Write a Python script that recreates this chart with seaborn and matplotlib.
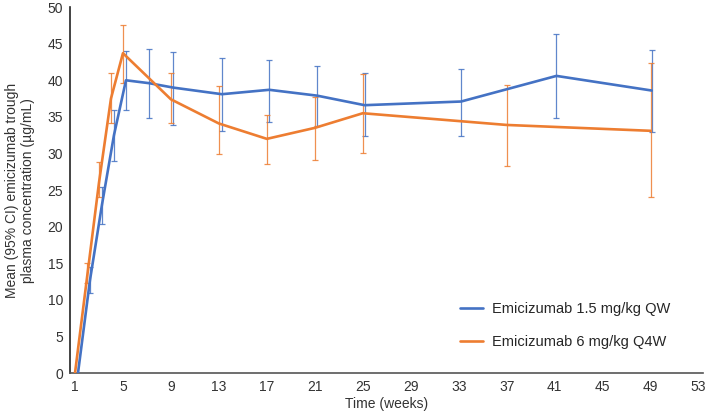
import numpy as np
import pandas as pd
import seaborn as sns
import matplotlib.pyplot as plt

# values
blue_label = "Emicizumab 1.5 mg/kg QW"
orange_label = "Emicizumab 6 mg/kg Q4W"

blue_weeks = [1.25, 2.25, 3.25, 4.25, 5.25, 7.2, 9.2, 13.25, 17.2, 21.2, 25.15, 33.2, 41.15, 49.1]
blue_mean = [0, 12.7, 23.0, 32.5, 40.0, 39.6, 39.0, 38.1, 38.7, 37.9, 36.6, 37.1, 40.6, 38.6]
blue_lo = [np.nan, 11.0, 20.4, 29.0, 35.9, 34.9, 33.9, 33.1, 34.3, 33.7, 32.4, 32.4, 34.8, 32.9]
blue_hi = [np.nan, 14.5, 25.4, 35.9, 44.0, 44.3, 43.8, 43.1, 42.8, 42.0, 41.0, 41.6, 46.3, 44.1]

orange_weeks = [1, 2, 3, 4, 5, 9, 13, 17, 21, 25, 37, 49]
orange_mean = [0, 13.0, 26.0, 37.5, 43.7, 37.4, 34.1, 32.0, 33.5, 35.5, 33.9, 33.1]
orange_lo = [np.nan, 12.3, 24.1, 34.2, 39.6, 34.1, 30.0, 28.6, 29.1, 30.1, 28.3, 24.0]
orange_hi = [np.nan, 15.0, 28.8, 41.0, 47.6, 41.0, 39.2, 35.3, 37.7, 40.8, 39.3, 42.4]

xticks = list(range(1, 54, 4))
yticks = list(range(0, 51, 5))

blue = "#4472C4"
orange = "#ED7D31"

df = pd.concat([
    pd.DataFrame({"week": blue_weeks, "conc": blue_mean, "regimen": blue_label}),
    pd.DataFrame({"week": orange_weeks, "conc": orange_mean, "regimen": orange_label}),
])

sns.set_style("white")
plt.rcParams["font.family"] = ["Liberation Sans", "DejaVu Sans"]

fig, ax = plt.subplots(figsize=(7.09, 4.16), dpi=100)
fig.subplots_adjust(left=0.099, right=0.992, bottom=0.103, top=0.983)

sns.lineplot(data=df, x="week", y="conc", hue="regimen",
             palette={blue_label: blue, orange_label: orange},
             linewidth=1.9, ax=ax, sort=False, zorder=3)

# error bars (95% CI)
for w, m, lo, hi, c in [(blue_weeks, blue_mean, blue_lo, blue_hi, blue),
                        (orange_weeks, orange_mean, orange_lo, orange_hi, orange)]:
    m = np.array(m)
    yerr = np.vstack([m - np.array(lo), np.array(hi) - m])
    ax.errorbar(w, m, yerr=yerr, fmt="none", ecolor=c, elinewidth=0.9,
                capsize=2.2, capthick=0.9, alpha=0.85, zorder=2)

ax.set_xlim(0.6, 53.4)
ax.set_ylim(0, 50)
ax.set_xticks(xticks)
ax.set_yticks(yticks)
ax.tick_params(axis="both", length=0, labelsize=10, labelcolor="#333333", pad=5)
ax.set_xlabel("Time (weeks)", fontsize=10, color="#333333", labelpad=2)
ax.set_ylabel("Mean (95% CI) emicizumab trough\nplasma concentration (µg/mL)",
              fontsize=10, color="#333333", labelpad=9)

sns.despine(ax=ax)
ax.spines["left"].set_color("#222222")
ax.spines["left"].set_linewidth(1.2)
ax.spines["bottom"].set_color("#555555")
ax.spines["bottom"].set_linewidth(1.2)

ax.legend(loc="upper left", bbox_to_anchor=(0.615, 0.195), frameon=False,
          fontsize=10.5, handlelength=1.6, handletextpad=0.65, labelspacing=1.35,
          borderaxespad=0, borderpad=0)

plt.savefig("out.png", dpi=100)
